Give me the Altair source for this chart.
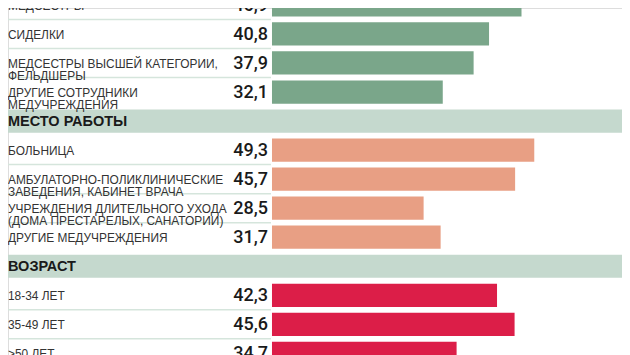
import altair as alt
import pandas as pd

# Rows (top to bottom); header rows have value None
labels = [
    "МЕДСЕСТРЫ",
    "СИДЕЛКИ",
    "МЕДСЕСТРЫ ВЫСШЕЙ КАТЕГОРИИ,\nФЕЛЬДШЕРЫ",
    "ДРУГИЕ СОТРУДНИКИ\nМЕДУЧРЕЖДЕНИЯ",
    "МЕСТО РАБОТЫ",
    "БОЛЬНИЦА",
    "АМБУЛАТОРНО-ПОЛИКЛИНИЧЕСКИЕ\nЗАВЕДЕНИЯ, КАБИНЕТ ВРАЧА",
    "УЧРЕЖДЕНИЯ ДЛИТЕЛЬНОГО УХОДА\n(ДОМА ПРЕСТАРЕЛЫХ, САНАТОРИИ)",
    "ДРУГИЕ МЕДУЧРЕЖДЕНИЯ",
    "ВОЗРАСТ",
    "18-34 ЛЕТ",
    "35-49 ЛЕТ",
    ">50 ЛЕТ",
]
values = [46.9, 40.8, 37.9, 32.1, None, 49.3, 45.7, 28.5, 31.7, None, 42.3, 45.6, 34.7]
groups = ["prof", "prof", "prof", "prof", "header", "place", "place", "place", "place",
          "header", "age", "age", "age"]

group_colors = {"prof": "#7aa68a", "place": "#e89f84", "age": "#dc1e48"}

rows = []
for i, (lab, v, g) in enumerate(zip(labels, values, groups)):
    rows.append({"row": i, "label": lab, "value": v, "group": g,
                 "vtext": (f"{v:.1f}".replace(".", ",") if v is not None else "")})
df = pd.DataFrame(rows)

# separators between consecutive data rows of the same group
seps = []
for i in range(len(labels) - 1):
    if groups[i] != "header" and groups[i] == groups[i + 1]:
        seps.append({"pos": i + 0.5})
sep_df = pd.DataFrame(seps)

W, H = 614, 347
xscale = alt.Scale(domain=[-49.62, 65.79], nice=False, zero=False)
yscale = alt.Scale(domain=[0.107, 12.056], nice=False, zero=False, reverse=True)

base = alt.Chart(df)
data_rows = base.transform_filter("datum.group != 'header'")
hdr_rows = base.transform_filter("datum.group == 'header'")

header_band = hdr_rows.transform_calculate(
    y1="datum.row - 0.4", y2="datum.row + 0.4"
).mark_rect(color="#c5d9ce", clip=True).encode(
    x=alt.value(0), x2=alt.value(614),
    y=alt.Y("y1:Q", scale=yscale, axis=None),
    y2="y2:Q",
)

header_text = hdr_rows.mark_text(
    align="left", baseline="middle", font="Liberation Sans", fontSize=14.5,
    fontWeight="bold", color="#1a1a1a", dy=1
).encode(
    x=alt.value(0),
    y=alt.Y("row:Q", scale=yscale, axis=None),
    text="label:N",
)

bars = data_rows.transform_calculate(
    y1="datum.row - 0.4", y2="datum.row + 0.4", zero="0"
).mark_rect(clip=True).encode(
    x=alt.X("zero:Q", scale=xscale, axis=None),
    x2="value:Q",
    y=alt.Y("y1:Q", scale=yscale, axis=None),
    y2="y2:Q",
    color=alt.Color("group:N",
                    scale=alt.Scale(domain=list(group_colors.keys()),
                                    range=list(group_colors.values())),
                    legend=None),
)

label_text = data_rows.mark_text(
    align="left", baseline="middle", font="Liberation Sans", fontSize=11.9,
    color="#333333", lineBreak="\n", lineHeight=12.2, dy=1
).encode(
    x=alt.value(0),
    y=alt.Y("row:Q", scale=yscale, axis=None),
    text="label:N",
)

value_text = data_rows.mark_text(
    align="right", baseline="middle", font="Roboto", fontSize=18,
    fontWeight=500, color="#1a1a1a", dy=1
).encode(
    x=alt.value(260),
    y=alt.Y("row:Q", scale=yscale, axis=None),
    text="vtext:N",
)

separators = alt.Chart(sep_df).mark_rule(color="#d5e5dc", strokeWidth=1.5).encode(
    x=alt.value(0), x2=alt.value(263),
    y=alt.Y("pos:Q", scale=yscale, axis=None),
)

chart = alt.layer(
    header_band, separators, bars, header_text, label_text, value_text
).properties(
    width=W, height=H, padding=0, autosize=alt.AutoSizeParams(type="none")
).configure_view(stroke=None).configure(background="white")

chart.save("out.html", embed_options={"renderer": "svg", "actions": False})
